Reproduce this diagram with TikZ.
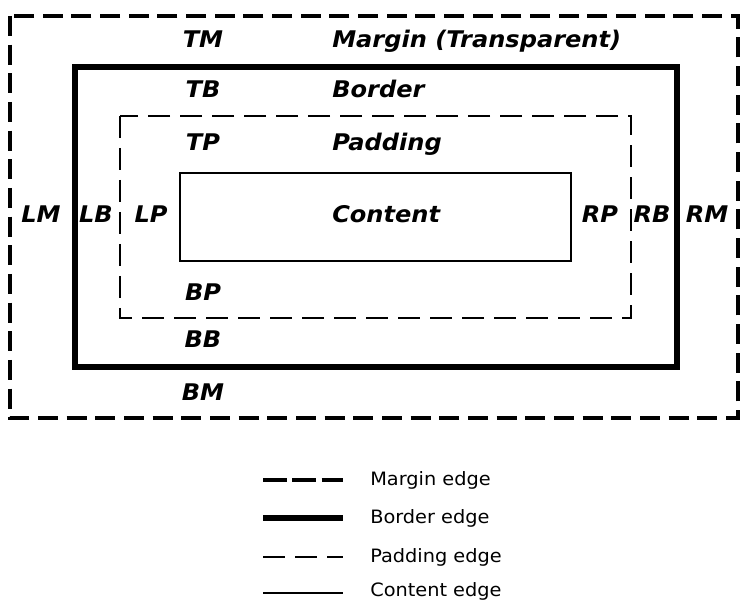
\documentclass[tikz,border=0pt]{standalone}
\usepackage{fontspec}
\newfontfamily\boxfont[FakeStretch=1.05]{DejaVu Sans}
\begin{document}
\begin{tikzpicture}[
      x=0.75pt, y=-0.75pt,
      lbl/.style={font=\boxfont\bfseries\itshape\fontsize{17.2}{19}\selectfont, inner sep=0pt, anchor=base},
      lblwest/.style={lbl, anchor=base west},
      legtext/.style={font=\boxfont\fontsize{13.8}{16}\selectfont, inner sep=0pt, anchor=base west},
      marginedge/.style={line width=3.2pt, dash pattern=on 15pt off 6.5pt},
      borderedge/.style={line width=4pt},
      paddingedge/.style={line width=1.1pt, dash pattern=on 16.5pt off 7.5pt},
      contentedge/.style={line width=0.9pt}
    ]
    \useasboundingbox (0,0) rectangle (740,602);

    % The four edges
    \draw[marginedge] (10,16) rectangle (738,418);
    \draw[borderedge] (75,67) rectangle (677,367);
    \draw[paddingedge] (120,116) rectangle (631,318);
    \draw[contentedge] (180,173) rectangle (571,261);

    % Top and bottom labels
    \node[lbl] (TM) at (203,48) {TM};
    \node[lbl] (TB) at (203,98) {TB};
    \node[lbl] (TP) at (203,151) {TP};
    \node[lbl] (BP) at (203,301) {BP};
    \node[lbl] (BB) at (203,348) {BB};
    \node[lbl] (BM) at (203,401) {BM};

    % Area names
    \node[lblwest] (margin) at (332,48) {Margin (Transparent)};
    \node[lblwest] (border) at (332,98) {Border};
    \node[lblwest] (padding) at (332,151) {Padding};
    \node[lblwest] (content) at (332,223) {Content};

    % Left and right labels
    \node[lbl] (LM) at (41,223) {LM};
    \node[lbl] (LB) at (96,223) {LB};
    \node[lbl] (LP) at (151,223) {LP};
    \node[lbl] (RP) at (600,223) {RP};
    \node[lbl] (RB) at (652,223) {RB};
    \node[lbl] (RM) at (707,223) {RM};

    % Legend
    \node[legtext] (lgmargin) at (370,486) {Margin edge};
    \node[legtext] (lgborder) at (370,524) {Border edge};
    \node[legtext] (lgpadding) at (370,562) {Padding edge};
    \node[legtext] (lgcontent) at (370,597) {Content edge};
    \coordinate (m1) at (263,480);  \coordinate (m2) at (343,480);
    \coordinate (b1) at (263,518);  \coordinate (b2) at (343,518);
    \coordinate (p1) at (263,557);  \coordinate (p2) at (343,557);
    \coordinate (c1) at (263,593);  \coordinate (c2) at (343,593);
    \draw[line width=3.2pt, dash pattern=on 18pt off 4pt] (m1) -- (m2);
    \draw[borderedge] (b1) -- (b2);
    \draw[paddingedge] (p1) -- (p2);
    \draw[contentedge] (c1) -- (c2);

    \end{tikzpicture}
\end{document}
